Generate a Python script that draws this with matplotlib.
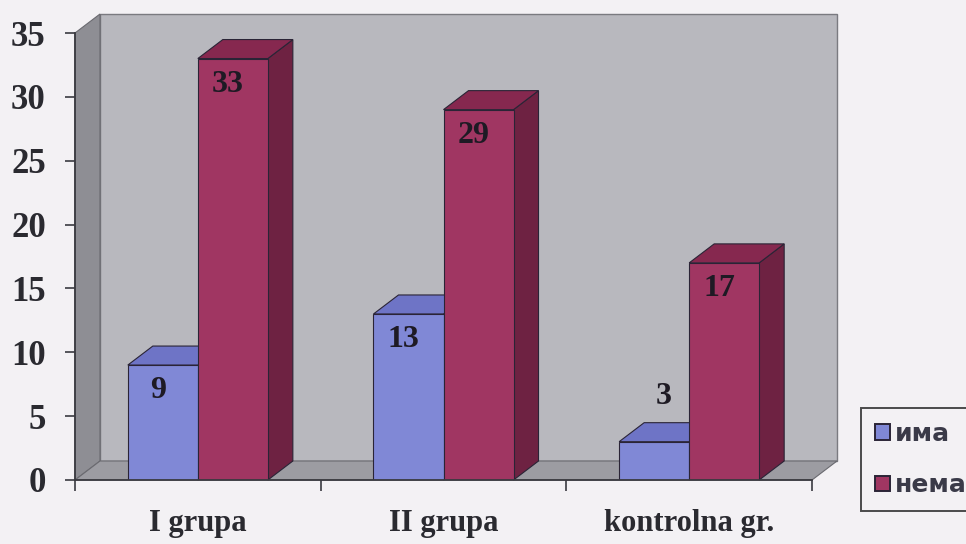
import matplotlib
matplotlib.use("Agg")
import matplotlib.pyplot as plt
from matplotlib.patches import Polygon, Patch
import numpy as np

# ---- data ----
categories = ["I grupa", "II grupa", "kontrolna gr."]
series_names = ["има", "нема"]
ima = [9, 13, 3]
nema = [33, 29, 17]
y_ticks = [0, 5, 10, 15, 20, 25, 30, 35]

# ---- style ----
W, H = 966, 544
bg = "#F3F1F4"
blue_front, blue_top, blue_side = "#8088D6", "#6E74C6", "#5A5FA8"
red_front, red_top, red_side = "#A03662", "#86284F", "#6E2242"
wall_back, wall_side, floor_c = "#B8B8BE", "#8E8E94", "#9C9CA2"
edge = "#2A2436"

fig = plt.figure(figsize=(W / 100, H / 100), dpi=100, facecolor=bg)
x0p, x1p, y0p, y1p = 75, 812, 480, 33
ax = fig.add_axes([x0p / W, 1 - y0p / H, (x1p - x0p) / W, (y0p - y1p) / H])
ax.set_xlim(0, 3)
ax.set_ylim(0, 35)
ax.set_facecolor("none")

ux = (x1p - x0p) / 3.0
uy = (y0p - y1p) / 35.0
dx = 25 / ux
dy = 19 / uy

def poly(pts, fc, ec=None, lw=0.8, z=1):
    p = Polygon(pts, closed=True, facecolor=fc, edgecolor=ec if ec else fc,
                linewidth=lw, zorder=z, clip_on=False)
    ax.add_patch(p)

# walls and floor
top = max(y_ticks)
poly([(dx, dy), (3 + dx, dy), (3 + dx, top + dy), (dx, top + dy)], wall_back, "#7A7A80", 1.0, 0.5)
poly([(0, 0), (dx, dy), (dx, top + dy), (0, top)], wall_side, "#6A6A70", 0.8, 0.6)
poly([(0, 0), (3, 0), (3 + dx, dy), (dx, dy)], floor_c, "#6A6A70", 0.8, 0.7)

# bars
bw = 0.285
centers = np.arange(len(categories)) + 0.5
lab_font = dict(fontsize=23, fontweight="bold", family="Liberation Serif",
                color="#1E1A24", zorder=20, ha="center", va="center")
for ci, c in enumerate(centers):
    for si, (vals, fcol, tcol, scol) in enumerate([(ima, blue_front, blue_top, blue_side),
                                                   (nema, red_front, red_top, red_side)]):
        v = vals[ci]
        xa = c - bw if si == 0 else c
        xb = xa + bw
        z = 2 + ci * 2 + si
        poly([(xb, 0), (xb + dx, dy), (xb + dx, v + dy), (xb, v)], scol, edge, 0.8, z)
        poly([(xa, v), (xb, v), (xb + dx, v + dy), (xa + dx, v + dy)], tcol, edge, 0.8, z)
        ax.bar(xa, v, width=bw, align="edge", color=fcol, edgecolor=edge,
               linewidth=0.8, zorder=z + 0.1)
        # value label
        if v < 5:
            ax.text(xa + bw / 2 + 0.04, v + 3.5, str(v), **lab_font)
        else:
            ax.text(xa + bw / 2 - 0.02, v - 2.0, str(v), **lab_font)

# axes styling
for s in ["top", "right"]:
    ax.spines[s].set_visible(False)
for s in ["left", "bottom"]:
    ax.spines[s].set_color("#3A3A40")
    ax.spines[s].set_linewidth(1.3)
    ax.spines[s].set_zorder(15)

ax.set_yticks(y_ticks)
ax.set_yticklabels([str(t) for t in y_ticks], fontsize=25, fontweight="bold",
                   family="Liberation Serif", color="#2A2A30")
ax.tick_params(axis="y", length=7, width=1.2, color="#3A3A40", pad=14)

ax.set_xticks([0, 1, 2, 3])
ax.set_xticklabels([])
ax.tick_params(axis="x", which="major", length=8, width=1.2, color="#3A3A40")
ax.set_xticks(centers, minor=True)
ax.set_xticklabels(categories, minor=True, fontsize=22, fontweight="bold",
                   family="Liberation Serif", color="#2A2A30")
ax.tick_params(axis="x", which="minor", length=0, pad=21)

# legend
handles = [Patch(facecolor=blue_front, edgecolor=edge, linewidth=1.4),
           Patch(facecolor=red_front, edgecolor=edge, linewidth=1.4)]
leg = fig.legend(handles, series_names, loc="upper left",
                 bbox_to_anchor=(861 / W, 1 - 408 / H),
                 prop={"family": "DejaVu Sans", "weight": "bold", "size": 18},
                 frameon=True, fancybox=False, edgecolor="#202020",
                 facecolor=bg, handlelength=0.6, handleheight=0.6,
                 handletextpad=0.2, labelspacing=1.1, borderpad=0.55,
                 borderaxespad=0)
leg.get_frame().set_linewidth(1.4)
for t in leg.get_texts():
    t.set_color("#3A3A48")

fig.savefig("out.png", dpi=100, facecolor=bg)
